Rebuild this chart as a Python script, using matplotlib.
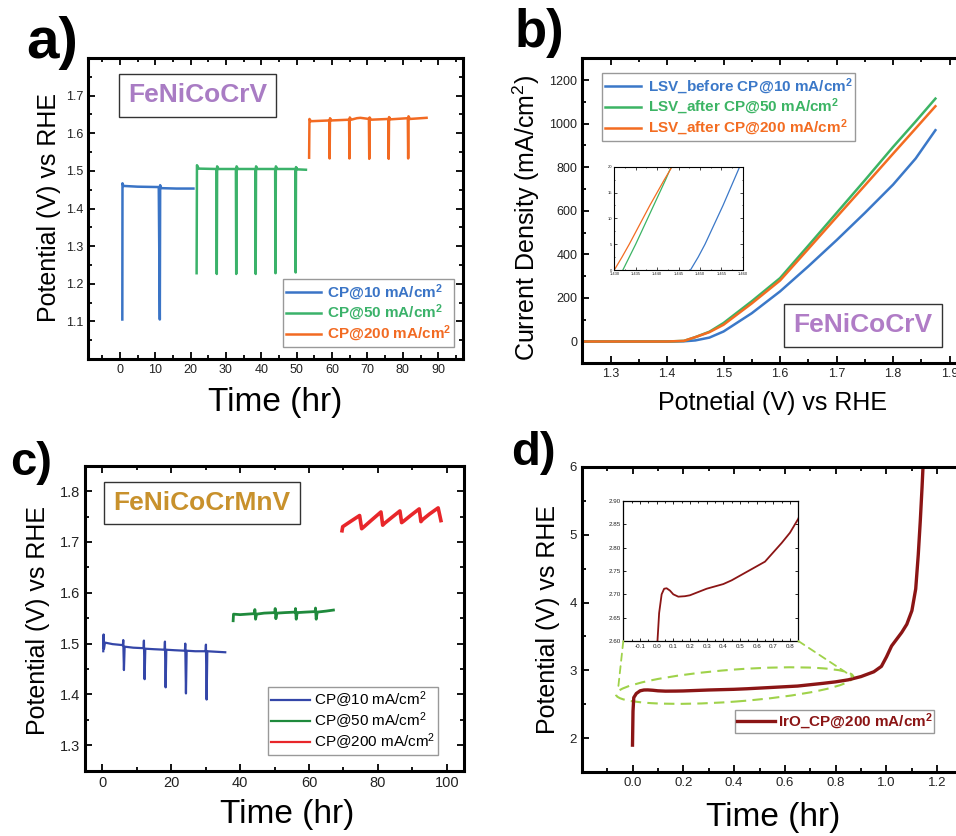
import matplotlib
matplotlib.use('Agg')
import matplotlib.pyplot as plt
import matplotlib.transforms as mt
from matplotlib.patches import Ellipse, ConnectionPatch
from matplotlib.ticker import MultipleLocator, FixedLocator, FormatStrFormatter

plt.rcParams['font.family'] = ['Liberation Sans', 'DejaVu Sans']
plt.rcParams['mathtext.default'] = 'regular'

# ---------------- data ----------------
# panel a : FeNiCoCrV chronopotentiometry
a10_t = [0.7, 0.75, 1.0, 5.0, 11.0, 11.3, 11.4, 11.5, 12.0, 16.0, 20.8]
a10_v = [1.105, 1.467, 1.460, 1.458, 1.457, 1.105, 1.462, 1.455, 1.454, 1.453, 1.453]
a50_t = [21.7, 21.8, 22.3, 27.3, 27.4, 27.5, 27.9, 32.8, 32.9, 33.0, 33.4, 38.3, 38.4, 38.5, 38.9,
         43.9, 44.0, 44.1, 44.5, 49.6, 49.7, 49.8, 50.2, 52.6]
a50_v = [1.228, 1.515, 1.506, 1.505, 1.226, 1.512, 1.505, 1.505, 1.226, 1.512, 1.505, 1.505, 1.226, 1.512, 1.505,
         1.505, 1.228, 1.512, 1.505, 1.505, 1.230, 1.510, 1.504, 1.503]
a200_t = [53.5, 53.6, 54.0, 59.2, 59.3, 59.4, 59.8, 64.8, 64.9, 65.0, 65.4, 67.0, 68.0, 70.4, 70.5, 70.6, 71.0,
          75.9, 76.0, 76.1, 76.5, 81.4, 81.5, 81.6, 82.0, 86.7]
a200_v = [1.535, 1.638, 1.632, 1.634, 1.533, 1.640, 1.634, 1.636, 1.533, 1.642, 1.636, 1.640, 1.641, 1.638, 1.532, 1.642, 1.636,
          1.638, 1.532, 1.643, 1.637, 1.640, 1.533, 1.645, 1.638, 1.641]
a_labels = ['CP@10 mA/cm$^2$', 'CP@50 mA/cm$^2$', 'CP@200 mA/cm$^2$']

# panel b : LSV curves
b_x = [1.25, 1.40, 1.43, 1.45, 1.475, 1.50, 1.55, 1.60, 1.65, 1.70, 1.75, 1.80, 1.84, 1.875]
b_before = [0, 0, 1, 5, 18, 46, 130, 230, 345, 465, 590, 720, 840, 970]
b_after50 = [0, 0, 3, 20, 45, 85, 185, 291, 440, 590, 740, 893, 1010, 1115]
b_after200 = [0, 0, 3, 20, 43, 77, 175, 280, 425, 571, 716, 862, 978, 1080]
b_labels = ['LSV_before CP@10 mA/cm$^2$', 'LSV_after CP@50 mA/cm$^2$', 'LSV_after CP@200 mA/cm$^2$']
# inset of b
bi_j = [0, 2.5, 5, 7.5, 10, 12.5, 15, 17.5, 20]
bi_before = [1.4478, 1.4496, 1.4512, 1.4526, 1.4540, 1.4554, 1.4567, 1.4580, 1.4593]
bi_after50 = [1.4320, 1.4335, 1.4350, 1.4364, 1.4378, 1.4392, 1.4406, 1.4420, 1.4433]
bi_after200 = [1.4300, 1.4318, 1.4335, 1.4351, 1.4367, 1.4383, 1.4400, 1.4417, 1.4435]

# panel c : FeNiCoCrMnV chronopotentiometry
c10_t = [0.3, 0.4, 0.5, 0.8, 3.0, 6.0, 6.1, 6.3, 6.5, 9.0, 12.0, 12.1, 12.3, 12.5, 15.0, 18.1, 18.2, 18.4, 18.6,
         21.0, 24.0, 24.1, 24.3, 24.5, 27.0, 30.0, 30.1, 30.3, 30.5, 33.0, 35.7]
c10_v = [1.485, 1.518, 1.490, 1.502, 1.499, 1.497, 1.507, 1.448, 1.494, 1.492, 1.491, 1.506, 1.430, 1.490, 1.489,
         1.488, 1.504, 1.414, 1.488, 1.487, 1.486, 1.500, 1.402, 1.486, 1.485, 1.485, 1.498, 1.390, 1.485, 1.484, 1.483]
c50_t = [38.0, 38.1, 40.0, 44.2, 44.3, 44.5, 44.8, 47.0, 50.1, 50.2, 50.4, 50.7, 53.0, 56.0, 56.1, 56.3, 56.6,
         59.0, 61.8, 61.9, 62.1, 62.4, 65.0, 67.1]
c50_v = [1.545, 1.558, 1.557, 1.559, 1.567, 1.548, 1.558, 1.560, 1.561, 1.569, 1.549, 1.560, 1.561, 1.562, 1.569,
         1.548, 1.561, 1.562, 1.563, 1.570, 1.548, 1.562, 1.564, 1.566]
c200_t = [69.6, 69.8, 72.0, 74.7, 75.3, 76.0, 78.0, 80.9, 81.4, 82.0, 84.0, 86.4, 86.9, 87.5, 89.5, 92.0, 92.5,
          93.0, 95.0, 97.5, 98.3]
c200_v = [1.722, 1.730, 1.740, 1.752, 1.726, 1.730, 1.742, 1.759, 1.733, 1.737, 1.748, 1.761, 1.738, 1.741, 1.752,
          1.765, 1.740, 1.744, 1.755, 1.767, 1.742]
c_labels = ['CP@10 mA/cm$^2$', 'CP@50 mA/cm$^2$', 'CP@200 mA/cm$^2$']

# panel d : IrO2 chronopotentiometry
d_t = [0.0, 0.002, 0.005, 0.015, 0.03, 0.045, 0.06, 0.08, 0.10, 0.13, 0.17, 0.20, 0.25, 0.30, 0.35, 0.40,
       0.45, 0.50, 0.55, 0.60, 0.65, 0.70, 0.75, 0.80, 0.85, 0.90, 0.95, 0.98, 1.00, 1.02, 1.04, 1.06,
       1.08, 1.10, 1.115, 1.125, 1.133, 1.14, 1.145]
d_v = [1.90, 2.40, 2.60, 2.66, 2.70, 2.712, 2.713, 2.708, 2.700, 2.695, 2.696, 2.698, 2.705, 2.712, 2.717, 2.722,
       2.730, 2.740, 2.750, 2.760, 2.770, 2.790, 2.810, 2.832, 2.862, 2.91, 2.98, 3.06, 3.20, 3.36, 3.46, 3.56,
       3.68, 3.88, 4.20, 4.70, 5.20, 5.70, 6.10]
d_label = 'IrO_CP@200 mA/cm$^2$'

# ---------------- figure ----------------
W, H = 956, 836
fig = plt.figure(figsize=(W / 100, H / 100), dpi=100)


def rect(l, t, r, b):
    return [l / W, 1 - b / H, (r - l) / W, (b - t) / H]


def fp(x, y):
    return (x / W, 1 - y / H)


def style(ax, fs=9, lw=2.2, tw=1.3, ml=5, nl=3):
    for s in ax.spines.values():
        s.set_linewidth(lw)
    ax.tick_params(which='both', direction='in', top=True, right=True, width=tw,
                   labelsize=fs, labelcolor='#222222')
    ax.tick_params(which='major', length=ml)
    ax.tick_params(which='minor', length=nl)


def labels(ax, xl, yl, xpos, ypos, xs=24, ys=18):
    ax.set_xlabel(xl, fontsize=xs)
    ax.set_ylabel(yl, fontsize=ys)
    ax.xaxis.set_label_coords(*fp(*xpos), transform=fig.transFigure)
    ax.yaxis.set_label_coords(*fp(*ypos), transform=fig.transFigure)


def place_legend(ax, x, y, cols, bold=True, fs=11, **kw):
    prop = {'size': fs, 'weight': 'bold' if bold else 'normal'}
    leg = ax.legend(loc='upper left', bbox_to_anchor=fp(x, y), bbox_transform=fig.transFigure,
                    prop=prop, frameon=True, fancybox=False, edgecolor='#999999', framealpha=1,
                    borderaxespad=0, **kw)
    leg.get_frame().set_linewidth(1.0)
    if cols is not None:
        for t, c in zip(leg.get_texts(), cols):
            t.set_color(c)
    return leg


# ---- panel a ----
ca = ['#3a74c6', '#3bb26a', '#f26a22']
axa = fig.add_axes(rect(88, 58, 463, 359))
axa.plot(a10_t, a10_v, color=ca[0], lw=1.8, label=a_labels[0])
axa.plot(a50_t, a50_v, color=ca[1], lw=1.8, label=a_labels[1])
axa.plot(a200_t, a200_v, color=ca[2], lw=1.8, label=a_labels[2])
axa.set_xlim(-9, 97)
axa.set_ylim(1.0, 1.8)
axa.xaxis.set_major_locator(FixedLocator([0, 10, 20, 30, 40, 50, 60, 70, 80, 90]))
axa.xaxis.set_minor_locator(MultipleLocator(5))
axa.yaxis.set_major_locator(FixedLocator([1.1, 1.2, 1.3, 1.4, 1.5, 1.6, 1.7]))
axa.yaxis.set_minor_locator(MultipleLocator(0.05))
axa.yaxis.set_major_formatter(FormatStrFormatter('%.1f'))
style(axa, fs=9)
labels(axa, 'Time (hr)', 'Potential (V) vs RHE', (275, 387), (61, 208))
place_legend(axa, 282.7, 279.3, ca, handlelength=2.3, handletextpad=0.4, labelspacing=0.05, borderpad=0.2)
axa.text(*fp(197.5, 95.5), 'FeNiCoCrV', transform=fig.transFigure, ha='center', va='center',
         fontsize=19, weight='bold', color='#a97cc4',
         bbox=dict(boxstyle='square,pad=0.35', fc='white', ec='#333333', lw=1.0))

# ---- panel b ----
cb = ['#3b78c8', '#3cb464', '#f36c21']
axb = fig.add_axes(rect(582.3, 58.3, 977.8, 363.3))
axb.plot(b_x, b_before, color=cb[0], lw=1.8, label=b_labels[0])
axb.plot(b_x, b_after50, color=cb[1], lw=1.8, label=b_labels[1])
axb.plot(b_x, b_after200, color=cb[2], lw=1.8, label=b_labels[2])
axb.set_xlim(1.25, 1.95)
axb.set_ylim(-100, 1300)
axb.xaxis.set_major_locator(MultipleLocator(0.1))
axb.xaxis.set_minor_locator(MultipleLocator(0.05))
axb.yaxis.set_major_locator(FixedLocator([0, 200, 400, 600, 800, 1000, 1200]))
axb.yaxis.set_minor_locator(MultipleLocator(100))
axb.xaxis.set_major_formatter(FormatStrFormatter('%.1f'))
style(axb, fs=9)
labels(axb, 'Potnetial (V) vs RHE', 'Current Density (mA/cm$^2$)', (772.5, 390.7), (541.7, 217.5), xs=18, ys=18)
place_legend(axb, 601.7, 73.3, cb, handlelength=2.4, handletextpad=0.4, labelspacing=0.05, borderpad=0.2)
axb.text(*fp(862.8, 325.3), 'FeNiCoCrV', transform=fig.transFigure, ha='center', va='center',
         fontsize=19, weight='bold', color='#b07cc6',
         bbox=dict(boxstyle='square,pad=0.35', fc='white', ec='#333333', lw=1.0))

axbi = fig.add_axes(rect(614.3, 166.7, 742.7, 270))
axbi.plot(bi_before, bi_j, color=cb[0], lw=0.9)
axbi.plot(bi_after50, bi_j, color=cb[1], lw=0.9)
axbi.plot(bi_after200, bi_j, color=cb[2], lw=0.9)
axbi.set_xlim(1.430, 1.460)
axbi.set_ylim(0, 20)
axbi.xaxis.set_major_locator(MultipleLocator(0.005))
axbi.xaxis.set_minor_locator(MultipleLocator(0.0025))
axbi.yaxis.set_major_locator(MultipleLocator(5))
axbi.yaxis.set_minor_locator(MultipleLocator(2.5))
axbi.xaxis.set_major_formatter(FormatStrFormatter('%.3f'))
style(axbi, fs=3, lw=0.8, tw=0.5, ml=2, nl=1)
axbi.tick_params(pad=1.5)

# ---- panel c ----
cc = ['#3446a8', '#1f8a3c', '#e8262a']
axc = fig.add_axes(rect(85, 465.7, 464, 770.7))
axc.plot(c10_t, c10_v, color=cc[0], lw=1.6, label=c_labels[0])
axc.plot(c50_t, c50_v, color=cc[1], lw=2.0, label=c_labels[1])
axc.plot(c200_t, c200_v, color=cc[2], lw=2.6, label=c_labels[2])
axc.set_xlim(-5, 105)
axc.set_ylim(1.25, 1.85)
axc.xaxis.set_major_locator(MultipleLocator(20))
axc.xaxis.set_minor_locator(MultipleLocator(10))
axc.yaxis.set_major_locator(FixedLocator([1.3, 1.4, 1.5, 1.6, 1.7, 1.8]))
axc.yaxis.set_minor_locator(MultipleLocator(0.05))
axc.yaxis.set_major_formatter(FormatStrFormatter('%.1f'))
style(axc, fs=10.5)
labels(axc, 'Time (hr)', 'Potential (V) vs RHE', (286.7, 799), (50, 620.8))
lc = place_legend(axc, 267.7, 686.7, None, bold=False, fs=11,
                  handlelength=2.6, handletextpad=0.2, labelspacing=0.02, borderpad=0.2)
for ln in lc.get_lines():
    ln.set_linewidth(1.6)
axc.text(*fp(202, 502.8), 'FeNiCoCrMnV', transform=fig.transFigure, ha='center', va='center',
         fontsize=19, weight='bold', color='#c8912c',
         bbox=dict(boxstyle='square,pad=0.35', fc='white', ec='#333333', lw=1.0))

# ---- panel d ----
cd = '#8b1515'
axd = fig.add_axes(rect(581.7, 466.7, 988.1, 772.3))
axd.plot(d_t, d_v, color=cd, lw=2.4, label=d_label)
axd.set_xlim(-0.2, 1.4)
axd.set_ylim(1.5, 6)
axd.xaxis.set_major_locator(FixedLocator([0.0, 0.2, 0.4, 0.6, 0.8, 1.0, 1.2]))
axd.xaxis.set_minor_locator(MultipleLocator(0.1))
axd.yaxis.set_major_locator(FixedLocator([2, 3, 4, 5, 6]))
axd.yaxis.set_minor_locator(MultipleLocator(0.5))
axd.xaxis.set_major_formatter(FormatStrFormatter('%.1f'))
style(axd, fs=9.5)
labels(axd, 'Time (hr)', 'Potential (V) vs RHE', (773.3, 802), (560, 619.2))
place_legend(axd, 735, 710, [cd], handlelength=2.5, handletextpad=0.2, borderpad=0.1)

gcol = '#9fd24a'
ell = Ellipse((0, 0), 238, 32, angle=4.3, fill=False, ec=gcol, ls=(0, (5, 3)), lw=1.5,
              transform=mt.Affine2D() + mt.ScaledTranslation(0.402, 2.777, axd.transData))
axd.add_artist(ell)

axdi = fig.add_axes(rect(623.3, 501, 798.3, 641))
axdi.plot(d_t, d_v, color=cd, lw=1.3)
axdi.set_xlim(-0.2, 0.85)
axdi.set_ylim(2.60, 2.90)
axdi.xaxis.set_major_locator(FixedLocator([-0.1, 0.0, 0.1, 0.2, 0.3, 0.4, 0.5, 0.6, 0.7, 0.8]))
axdi.xaxis.set_minor_locator(MultipleLocator(0.05))
axdi.yaxis.set_major_locator(MultipleLocator(0.05))
axdi.yaxis.set_major_formatter(FormatStrFormatter('%.2f'))
axdi.xaxis.set_major_formatter(FormatStrFormatter('%.1f'))
style(axdi, fs=4.5, lw=0.9, tw=0.6, ml=2.5, nl=1.5)
axdi.tick_params(pad=2)

for xyA, xyB in [((0, 0), (-0.057, 2.72)), ((1, 0), (0.866, 2.907))]:
    cp = ConnectionPatch(xyA=xyA, coordsA=axdi.transAxes, xyB=xyB, coordsB=axd.transData,
                         color=gcol, ls=(0, (4, 3)), lw=1.3)
    fig.add_artist(cp)

# ---- panel letters ----
fig.text(*fp(26, 58), 'a)', fontsize=42, weight='bold', va='baseline')
fig.text(*fp(515, 47), 'b)', fontsize=38, weight='bold', va='baseline')
fig.text(*fp(10, 475), 'c)', fontsize=34, weight='bold', va='baseline')
fig.text(*fp(511, 465), 'd)', fontsize=34, weight='bold', va='baseline')

fig.savefig('out.png', dpi=100)
